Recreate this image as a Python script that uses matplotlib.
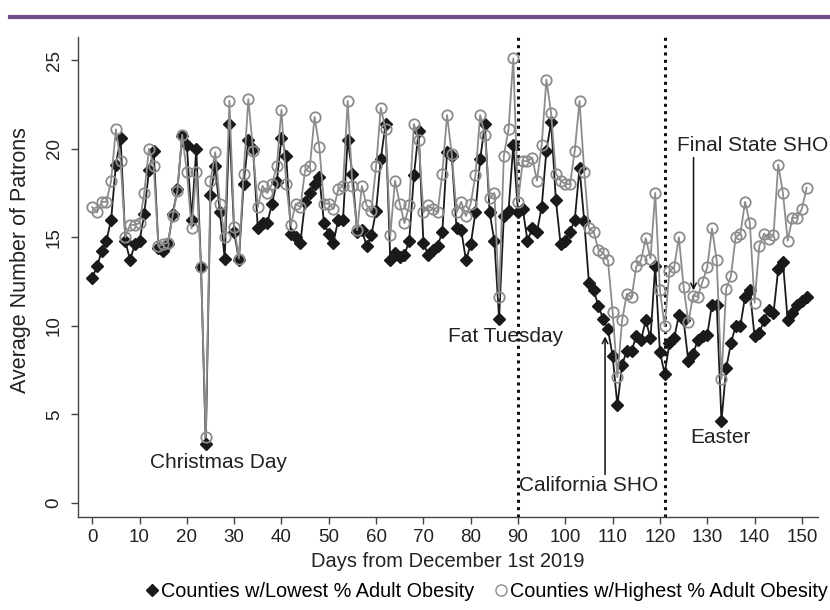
import matplotlib
matplotlib.use("Agg")
import matplotlib.pyplot as plt
from matplotlib.lines import Line2D
import numpy as np

plt.rcParams['font.family'] = ['Liberation Sans', 'DejaVu Sans']

days = list(range(0, 152))

low_obesity = [
    12.7, 13.35, 14.2, 14.8, 16.0, 19.1, 20.6, 14.8, 13.7, 14.6,
    14.8, 16.3, 18.8, 19.9, 14.4, 14.2, 14.6, 16.3, 17.7, 20.7,
    20.2, 16.0, 20.0, 13.3, 3.3, 17.4, 19.0, 16.4, 13.8, 21.4,
    15.3, 13.7, 18.0, 20.5, 20.0, 15.5, 15.8, 15.8, 16.9, 18.1,
    20.6, 19.6, 15.2, 15.0, 14.7, 17.0, 17.5, 18.0, 18.4, 15.8,
    15.2, 14.7, 16.0, 16.0, 20.5, 18.6, 15.3, 15.4, 14.5, 15.1,
    16.5, 19.4, 21.4, 13.7, 14.1, 13.9, 14.0, 14.8, 18.5, 21.0,
    14.7, 14.0, 14.3, 14.5, 15.3, 19.8, 19.6, 15.5, 15.4, 13.7,
    14.6, 16.4, 19.4, 21.4, 16.4, 14.8, 10.4, 16.2, 16.5, 20.2,
    16.4, 16.6, 14.8, 15.5, 15.3, 16.7, 19.9, 21.5, 17.1, 14.6,
    14.8, 15.3, 16.0, 18.9, 15.9, 12.4, 12.0, 11.1, 10.4, 9.8,
    8.3, 5.5, 7.8, 8.6, 8.6, 9.4, 9.2, 10.3, 9.3, 13.4,
    8.5, 7.3, 9.0, 9.3, 10.6, 10.3, 8.0, 8.4, 9.2, 9.4,
    9.5, 11.2, 11.2, 4.6, 7.6, 9.0, 10.0, 10.0, 11.65, 12.0,
    9.4, 9.6, 10.3, 10.9, 10.7, 13.2, 13.6, 10.3, 10.7, 11.2,
    11.4, 11.65,
]

high_obesity = [
    16.7, 16.4, 17.0, 17.0, 18.2, 21.1, 19.3, 15.0, 15.7, 15.7,
    15.8, 17.5, 20.0, 19.0, 14.5, 14.6, 14.7, 16.2, 17.6, 20.8,
    18.7, 15.5, 18.7, 13.3, 3.7, 18.2, 19.8, 16.9, 15.0, 22.7,
    15.6, 13.8, 18.6, 22.8, 19.9, 16.7, 17.9, 17.5, 18.0, 19.0,
    22.2, 18.0, 15.7, 16.9, 16.7, 18.8, 19.0, 21.8, 20.1, 16.9,
    16.9, 16.6, 17.7, 17.9, 22.7, 17.9, 15.4, 17.9, 16.8, 16.5,
    19.0, 22.3, 21.1, 15.1, 18.2, 16.9, 15.8, 16.8, 21.4, 20.5,
    16.4, 16.8, 16.6, 16.4, 18.6, 21.9, 19.7, 16.4, 17.0, 16.2,
    16.9, 18.5, 21.9, 20.8, 17.2, 17.5, 11.6, 19.6, 21.1, 25.1,
    17.0, 19.3, 19.3, 19.5, 18.2, 20.2, 23.9, 22.0, 18.6, 18.2,
    18.0, 18.0, 19.9, 22.7, 18.7, 15.5, 15.3, 14.3, 14.1, 13.7,
    10.8, 7.1, 10.3, 11.8, 11.6, 13.35, 13.7, 14.95, 13.8, 17.5,
    12.0, 9.96, 13.1, 13.3, 15.0, 12.2, 10.2, 11.7, 11.65, 12.5,
    13.3, 15.5, 13.7, 7.0, 12.1, 12.8, 15.0, 15.2, 17.0, 15.8,
    11.3, 14.5, 15.2, 14.9, 15.1, 19.1, 17.5, 14.8, 16.1, 16.1,
    16.6, 17.8,
]

x_ticks = list(range(0, 151, 10))
y_ticks = [0, 5, 10, 15, 20, 25]
policy_days = [90, 121]
label_low = "Counties w/Lowest % Adult Obesity"
label_high = "Counties w/Highest % Adult Obesity"

BLACK = "#1a1a1a"
GRAY = "#8c8c8c"
AXC = "#444444"
TXT = "#222222"

fig = plt.figure(figsize=(8.3, 6.1), dpi=100)
ax = fig.add_axes([0.094, 0.1525, 0.8915, 0.7865])

# purple rule at the top
fig.add_artist(Line2D([0.012, 1.0], [0.972, 0.972], transform=fig.transFigure,
                      color="#6d4f8c", lw=3))

ax.plot(days, low_obesity, color=BLACK, lw=1.3, marker="D", ms=6.2,
        mfc=BLACK, mec=BLACK, zorder=3)
ax.plot(days, high_obesity, color=GRAY, lw=1.3, marker="o", ms=7.5,
        mfc="none", mec=GRAY, mew=1.3, zorder=4)

for d in policy_days:
    ax.axvline(d, color="#111111", lw=2.2, ls=(0, (1, 1.4)), zorder=2)

ax.set_xlim(-3.0, 153.4)
ax.set_ylim(-0.8, 26.3)
ax.set_xticks(x_ticks)
ax.set_yticks(y_ticks)
for s in ["top", "right"]:
    ax.spines[s].set_visible(False)
for s in ["left", "bottom"]:
    ax.spines[s].set_color(AXC)
    ax.spines[s].set_linewidth(1.0)
ax.tick_params(axis="both", direction="out", length=5, width=1.0, color=AXC,
               labelsize=13.5, labelcolor=TXT)
ax.tick_params(axis="y", pad=6)
ax.tick_params(axis="x", pad=4)
for lab in ax.get_yticklabels():
    lab.set_rotation(90)
    lab.set_va("center")
ax.set_xlabel("Days from December 1st 2019", fontsize=14.5, color=TXT)
ax.set_ylabel("Average Number of Patrons", fontsize=15.5, color=TXT)
ax.xaxis.set_label_coords(0.5, -0.072)
ax.yaxis.set_label_coords(-0.063, 0.535)

tk = dict(fontsize=15, color=TXT)
ax.text(26.6, 2.3, "Christmas Day", ha="center", va="center", **tk)
ax.text(87.4, 9.4, "Fat Tuesday", ha="center", va="center", **tk)
ax.text(105.0, 1.0, "California SHO", ha="center", va="center", **tk)
ax.text(139.6, 20.2, "Final State SHO", ha="center", va="center", **tk)
ax.text(132.7, 3.7, "Easter", ha="center", va="center", **tk)

ax.annotate("", xy=(108.4, 9.4), xytext=(108.4, 1.6),
            arrowprops=dict(arrowstyle="->", color="#111111", lw=1.1,
                            shrinkA=0, shrinkB=0, mutation_scale=10))
ax.annotate("", xy=(127.1, 12.0), xytext=(127.1, 19.5),
            arrowprops=dict(arrowstyle="->", color="#111111", lw=1.1,
                            shrinkA=0, shrinkB=0, mutation_scale=10))

handles = [
    Line2D([], [], color=BLACK, marker="D", ms=6, ls="none"),
    Line2D([], [], color=GRAY, marker="o", ms=8, mfc="none", mew=1.0, ls="none"),
]
fig.legend(handles, [label_low, label_high], loc="center", bbox_to_anchor=(0.585, 0.03),
           ncol=2, frameon=False, fontsize=14.3, handletextpad=0.0, columnspacing=0.9,
           handlelength=0.9, borderaxespad=0)

fig.savefig("out.png", dpi=100, facecolor="white")
